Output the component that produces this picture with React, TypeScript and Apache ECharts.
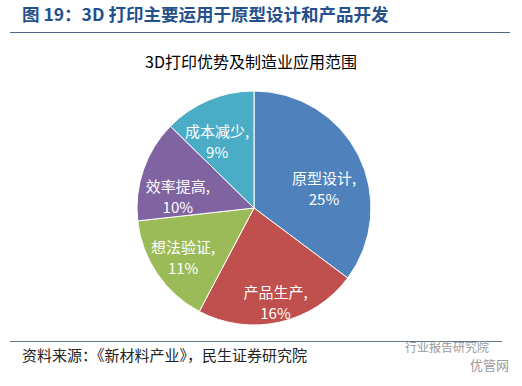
import React, { useEffect, useRef } from "react";
import * as echarts from "echarts";

const categories = ["原型设计", "产品生产", "想法验证", "效率提高", "成本减少"];
const values = [25, 16, 11, 10, 9];
const colors = ["#4F81BD", "#C0504D", "#9BBB59", "#8064A2", "#4BACC6"];
// label nudges (px) from default inside position
const labelDx = [15, 8, -20, -18, -13];
const labelDy = [8, 34, 14, 8, -10];

const figTitle = "图 19：3D 打印主要运用于原型设计和产品开发";
const chartTitle = "3D打印优势及制造业应用范围";
const sourceText = "资料来源：《新材料产业》，民生证券研究院";

export default function App() {
  const ref = useRef<HTMLDivElement>(null);
  useEffect(() => {
    if (!ref.current) return;
    const chart = echarts.init(ref.current, null, { renderer: "svg" });
    chart.setOption({
      animation: false,
      backgroundColor: "#ffffff",
      title: {
        text: chartTitle,
        left: 246,
        top: 48,
        textAlign: "center",
        textStyle: {
          fontFamily: "'Noto Sans CJK SC', sans-serif",
          fontSize: 16,
          fontWeight: "normal",
          color: "#000000",
        },
      },
      graphic: [
        {
          type: "text",
          left: 22,
          top: 5,
          style: {
            text: figTitle,
            font: "bold 17.5px 'Noto Sans CJK SC', sans-serif",
            fill: "#24508C",
          },
        },
        {
          type: "line",
          shape: { x1: 10, y1: 32.5, x2: 510, y2: 32.5 },
          style: { stroke: "#4A6A85", lineWidth: 1.2 },
        },
        {
          type: "line",
          shape: { x1: 10, y1: 341.5, x2: 502, y2: 341.5 },
          style: { stroke: "#5E7A8A", lineWidth: 1.2 },
        },
        {
          type: "text",
          left: 22,
          top: 347,
          style: {
            text: sourceText,
            font: "15px 'Noto Sans CJK SC', sans-serif",
            fill: "#222222",
          },
        },
        {
          type: "text",
          left: 405,
          top: 340,
          style: {
            text: "行业报告研究院",
            font: "12px 'Noto Sans CJK SC', sans-serif",
            fill: "#9a9a9a",
          },
        },
        {
          type: "text",
          left: 470,
          top: 358,
          style: {
            text: "优管网",
            font: "13px 'Noto Sans CJK SC', sans-serif",
            fill: "#9a9a9a",
          },
        },
      ],
      series: [
        {
          type: "pie",
          center: [254, 208],
          radius: 117,
          startAngle: 90,
          clockwise: true,
          avoidLabelOverlap: false,
          itemStyle: { borderColor: "#ffffff", borderWidth: 1 },
          label: {
            show: true,
            position: "inside",
            color: "#ffffff",
            fontSize: 15,
            lineHeight: 21,
            fontFamily: "'Noto Sans CJK SC', sans-serif",
            formatter: (p: any) => `${p.name},\n${p.value}%`,
          },
          labelLayout: (p: any) => ({
            dx: labelDx[p.dataIndex],
            dy: labelDy[p.dataIndex],
          }),
          labelLine: { show: false },
          emphasis: { disabled: true },
          data: categories.map((name, i) => ({
            name,
            value: values[i],
            itemStyle: { color: colors[i] },
          })),
        },
      ],
    });
    return () => chart.dispose();
  }, []);
  return (
    <div
      ref={ref}
      style={{ position: "fixed", left: 0, top: 0, width: 522, height: 386 }}
    />
  );
}
